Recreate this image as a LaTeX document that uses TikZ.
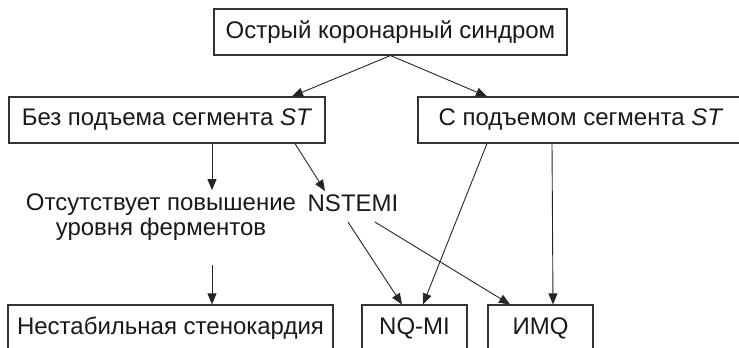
\documentclass[tikz,border=0pt]{standalone}
\usepackage{fontspec}
\setmainfont{Liberation Sans}
\usetikzlibrary{arrows.meta,positioning}
\tikzset{
  box/.style={draw=black!80, line width=1.1pt, minimum height=46pt, inner xsep=0pt, text=black!90},
  lbl/.style={text=black!90, align=center},
  arr/.style={draw=black!85, line width=0.9pt, -{Triangle[length=11pt,width=9pt]}},
}
\begin{document}
\begin{tikzpicture}[x=1pt, y=-1pt, font=\fontsize{24}{25}\selectfont]
\clip (0,0) rectangle (739,348);

% Top
\node[box, minimum width=353pt] (acs) at (390.5,32) {Острый коронарный синдром};

% Middle row
\node[box, minimum width=316pt] (nost) at (167,120) {Без подъема сегмента \textit{ST}};
\node[box, minimum width=326pt] (stelev) at (581,120) {С подъемом сегмента \textit{ST}};
\node[lbl] (noenz) at (161,217) {Отсутствует повышение\\уровня ферментов};
\node[lbl] (nstemi) at (353,203) {NSTEMI};

% Bottom row
\node[box, minimum width=325pt] (ua) at (170.5,328) {Нестабильная стенокардия};
\node[box, minimum width=105pt] (nqmi) at (414.5,328) {NQ-MI};
\node[box, minimum width=105pt] (imq) at (540.5,328) {ИМQ};

% Arrows
\draw[arr] (acs.south) -- ([xshift=125pt]nost.north);
\draw[arr] (acs.south) -- ([xshift=-94pt]stelev.north);
\draw[arr] ([xshift=45pt]nost.south) -- ([xshift=45pt]nost.south |- noenz.north);
\draw[arr] ([xshift=128pt]nost.south) -- ([xshift=-28pt]nstemi.north);
\draw[arr] ([xshift=51pt,yshift=-21pt]noenz.south) -- ([xshift=41.5pt]ua.north);
\draw[arr] ([xshift=-5pt,yshift=-7pt]nstemi.south) -- ([xshift=-12.5pt]nqmi.north);
\draw[arr] ([xshift=22pt,yshift=-7pt]nstemi.south) -- ([xshift=-30.5pt]imq.north);
\draw[arr] ([xshift=-94pt]stelev.south) -- ([xshift=8.5pt]nqmi.north);
\draw[arr] ([xshift=-29pt]stelev.south) -- ([xshift=12.5pt]imq.north);

\end{tikzpicture}
\end{document}
